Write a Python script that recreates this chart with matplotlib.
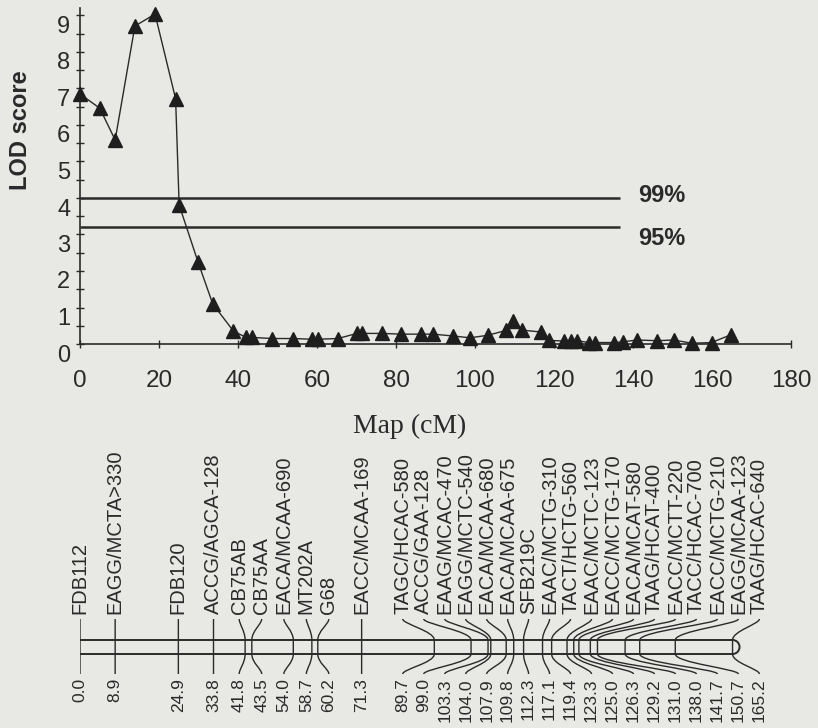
import numpy as np
import matplotlib
matplotlib.use("Agg")
import matplotlib.pyplot as plt
from matplotlib.path import Path
from matplotlib.patches import PathPatch, Arc
from matplotlib.transforms import ScaledTranslation
from matplotlib import font_manager

# ---------------- data ----------------
lod_pos = [0.0, 5.0, 8.9, 13.9, 19.0, 24.2, 25.1, 29.9, 33.6, 38.8,
           42.0, 43.5, 48.7, 54.0, 58.8, 60.2, 65.3, 70.1, 71.3, 76.4,
           81.3, 86.3, 89.4, 94.4, 98.8, 103.3, 107.8, 109.7, 111.9, 116.6,
           118.7, 122.6, 124.2, 125.8, 128.8, 130.5, 135.3, 137.5, 141.0, 146.1,
           150.3, 154.9, 159.9, 164.7]
lod_val = [6.85, 6.46, 5.59, 8.71, 9.04, 6.72, 3.81, 2.24, 1.10, 0.36,
           0.18, 0.18, 0.15, 0.15, 0.13, 0.13, 0.15, 0.29, 0.29, 0.29,
           0.27, 0.27, 0.27, 0.22, 0.17, 0.24, 0.37, 0.62, 0.38, 0.33,
           0.10, 0.08, 0.08, 0.09, 0.04, 0.04, 0.04, 0.06, 0.11, 0.09,
           0.11, 0.02, 0.04, 0.25]

thresh_names = ["99%", "95%"]
thresh_vals = [4.0, 3.2]

marker_names = ["FDB112", "EAGG/MCTA>330", "FDB120", "ACCG/AGCA-128", "CB75AB",
                "CB75AA", "EACA/MCAA-690", "MT202A", "G68", "EACC/MCAA-169",
                "TAGC/HCAC-580", "ACCG/GAA-128", "EAAG/MCAC-470", "EAGG/MCTC-540",
                "EACA/MCAA-680", "EACA/MCAA-675", "SFB219C", "EAAC/MCTG-310",
                "TACT/HCTG-560", "EAAC/MCTC-123", "EACC/MCTG-170", "EACA/MCAT-580",
                "TAAG/HCAT-400", "EACC/MCTT-220", "TACC/HCAC-700", "EACC/MCTG-210",
                "EAGG/MCAA-123", "TAAG/HCAC-640"]
marker_pos = [0.0, 8.9, 24.9, 33.8, 41.8, 43.5, 54.0, 58.7, 60.2, 71.3,
              89.7, 99.0, 103.3, 104.0, 107.9, 109.8, 112.3, 117.1, 119.4, 123.3,
              125.0, 126.3, 129.2, 131.0, 138.0, 141.7, 150.7, 165.2]

# ---------------- style ----------------
BG = "#e8e8e5"
INK = "#2a2a2a"
plt.rcParams["font.family"] = ["Liberation Sans", "DejaVu Sans"]

names = {f.name for f in font_manager.fontManager.ttflist}
if "Liberation Sans Narrow" in names:
    lab_family = ["Liberation Sans Narrow", "Liberation Sans"]
    lab_size, num_size = 16, 13
else:
    lab_family = ["Liberation Sans", "DejaVu Sans"]
    lab_size, num_size = 14.5, 12.5

W, H = 818, 728
fig = plt.figure(figsize=(W / 100, H / 100), dpi=100, facecolor=BG)

# ---------------- LOD plot ----------------
x0px, x1px = 80, 791
ax = fig.add_axes([x0px / W, 1 - 344 / H, (x1px - x0px) / W, (344 - 8.2) / H])
ax.set_facecolor(BG)
ax.set_xlim(0, 180)
ax.set_ylim(0, 9.2)
for s in ["top", "right"]:
    ax.spines[s].set_visible(False)
for s in ["left", "bottom"]:
    ax.spines[s].set_color(INK)
    ax.spines[s].set_linewidth(1.2)

ax.plot(lod_pos, lod_val, color=INK, lw=1.0, marker="^", ms=10,
        mfc="#1e1e1e", mec="#1e1e1e", clip_on=False, zorder=3)

for name, v, ty in zip(thresh_names, thresh_vals, [4.08, 2.9]):
    ax.plot([0, 136.7], [v, v], color=INK, lw=1.8, solid_capstyle="butt")
    ax.text(141.3, ty, name, fontsize=17, fontweight="bold", color=INK,
            ha="left", va="center")

ax.set_xticks(np.arange(0, 181, 20))
ax.set_yticks(np.arange(0, 10, 1))
ax.set_yticks(np.arange(0.5, 9.5, 1), minor=True)
ax.tick_params(axis="both", which="both", direction="inout", length=6,
               width=1, color=INK, labelcolor=INK)
ax.tick_params(axis="x", labelsize=17.5, pad=16)
ax.tick_params(axis="y", labelsize=17, pad=4)
off = ScaledTranslation(0, -0.09, fig.dpi_scale_trans)
for lab in ax.get_yticklabels():
    lab.set_transform(lab.get_transform() + off)

fig.text(21 / W, 1 - 130 / H, "LOD score", rotation=90, fontsize=17,
         fontweight="bold", color=INK, ha="center", va="center")
fig.text(410 / W, 1 - 426 / H, "Map (cM)", fontsize=20, color=INK,
         family=["Liberation Serif", "DejaVu Serif"], ha="center", va="center")

# ---------------- linkage map ----------------
axm = fig.add_axes([x0px / W, 0, (x1px - x0px) / W, 1 - 440 / H])
axm.set_facecolor("none")
axm.set_xlim(0, 180)
axm.set_ylim(728, 440)          # vertical units = pixel rows
axm.axis("off")

px_per_cm = (x1px - x0px) / 180.0
bar_top, bar_bot = 640, 654
mid = (bar_top + bar_bot) / 2
r_cm = (bar_bot - bar_top) / 2 / px_per_cm
start, end = marker_pos[0], marker_pos[-1]
axm.plot([start, end], [bar_top, bar_top], color=INK, lw=1.4)
axm.plot([start, end], [bar_bot, bar_bot], color=INK, lw=1.4)
axm.add_patch(Arc((start, mid), 2 * r_cm, bar_bot - bar_top, theta1=90, theta2=270,
                  color=INK, lw=1.4))
axm.add_patch(Arc((end, mid), 2 * r_cm, bar_bot - bar_top, theta1=-90, theta2=90,
                  color=INK, lw=1.4))

# label layout positions (cM) for crowded markers
label_x = [0.0, 8.9, 24.9, 33.8, 40.3, 46.0, 51.6, 57.3, 63.0, 71.3] + \
    list(np.linspace(81.7, 172.0, 18))

y_top_end, y_bot_end = 619, 674
for name, m, lx in zip(marker_names, marker_pos, label_x):
    verts = [(lx, y_top_end), (lx, y_top_end + 5), (m, bar_top - 9), (m, bar_top),
             (m, bar_bot),
             (m, bar_bot + 9), (lx, y_bot_end - 5), (lx, y_bot_end)]
    codes = [Path.MOVETO, Path.CURVE4, Path.CURVE4, Path.CURVE4,
             Path.LINETO,
             Path.CURVE4, Path.CURVE4, Path.CURVE4]
    axm.add_patch(PathPatch(Path(verts, codes), fill=False, edgecolor=INK, lw=1.0))
    axm.text(lx, 614, name, rotation=90, ha="center", va="bottom",
             fontsize=lab_size, family=lab_family, color=INK)
    axm.text(lx, 678, f"{m:.1f}", rotation=90, ha="center", va="top",
             fontsize=num_size, family=lab_family, color=INK)

fig.savefig("out.png", dpi=100, facecolor=BG)
